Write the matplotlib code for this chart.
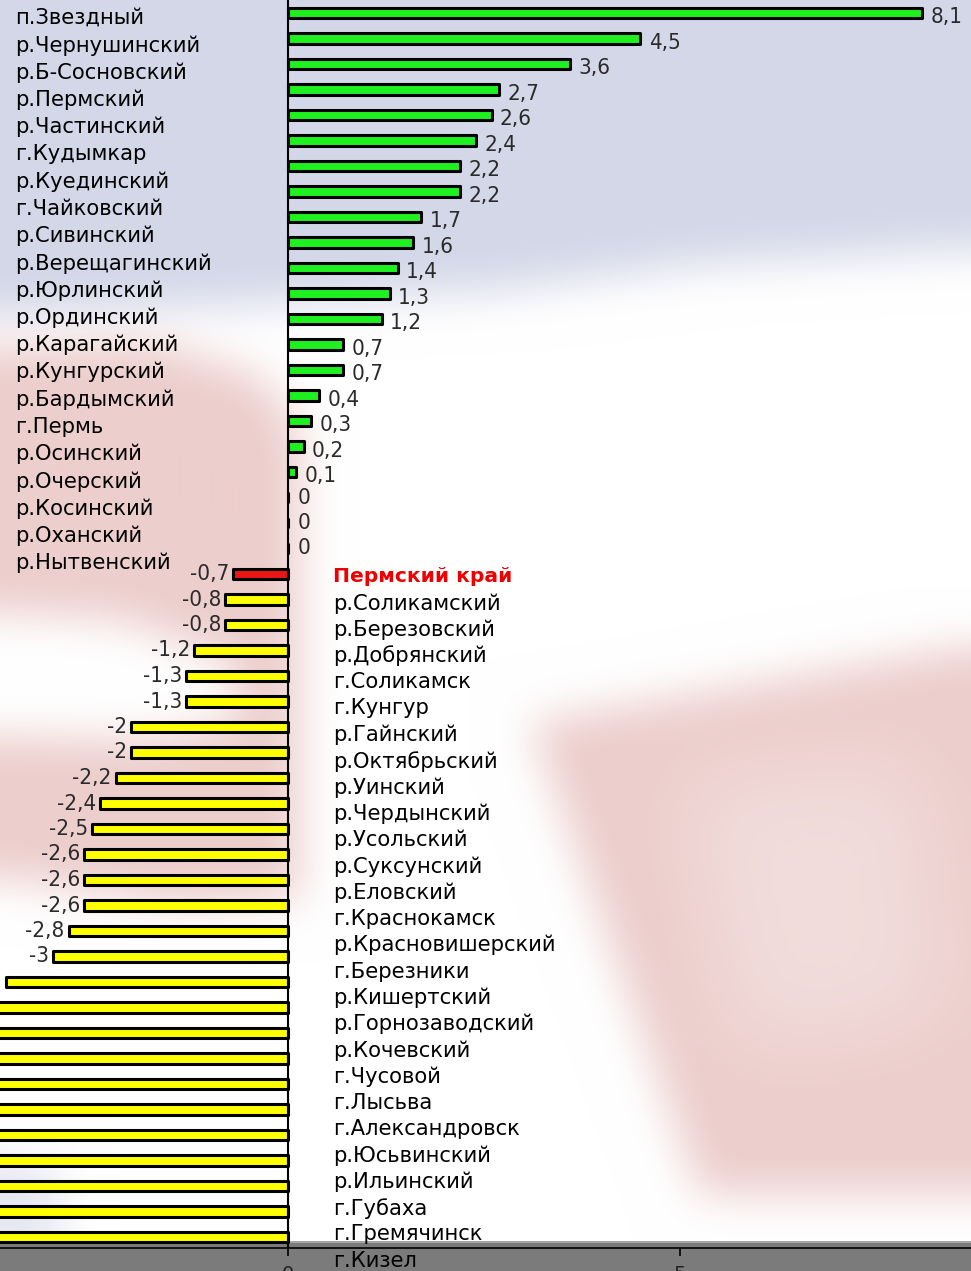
import numpy as np
import matplotlib
matplotlib.use("Agg")
import matplotlib.pyplot as plt
from matplotlib.path import Path
from matplotlib.patches import Rectangle

# ---------------- data ----------------
pos_names = ["п.Звездный", "р.Чернушинский", "р.Б-Сосновский", "р.Пермский", "р.Частинский",
             "г.Кудымкар", "р.Куединский", "г.Чайковский", "р.Сивинский", "р.Верещагинский",
             "р.Юрлинский", "р.Ординский", "р.Карагайский", "р.Кунгурский", "р.Бардымский",
             "г.Пермь", "р.Осинский", "р.Очерский", "р.Косинский", "р.Оханский", "р.Нытвенский"]
pos_vals = [8.1, 4.5, 3.6, 2.7, 2.6, 2.4, 2.2, 2.2, 1.7, 1.6, 1.4, 1.3, 1.2, 0.7, 0.7,
            0.4, 0.3, 0.2, 0.1, 0, 0, 0]
total_name = "Пермский край"
total_val = -0.7
neg_names = ["р.Соликамский", "р.Березовский", "р.Добрянский", "г.Соликамск", "г.Кунгур",
             "р.Гайнский", "р.Октябрьский", "р.Уинский", "р.Чердынский", "р.Усольский",
             "р.Суксунский", "р.Еловский", "г.Краснокамск", "р.Красновишерский", "г.Березники",
             "р.Кишертский", "р.Горнозаводский", "р.Кочевский", "г.Чусовой", "г.Лысьва",
             "г.Александровск", "р.Юсьвинский", "р.Ильинский", "г.Губаха", "г.Гремячинск", "г.Кизел"]
neg_vals = [-0.8, -0.8, -1.2, -1.3, -1.3, -2, -2, -2.2, -2.4, -2.5, -2.6, -2.6, -2.6, -2.8, -3,
            -3.6, -3.8, -4.0, -4.2, -4.5, -4.7, -5.0, -5.4, -5.9, -6.5, -7.3]
x_ticks = [0, 5]

# ---------------- figure ----------------
W, H = 971, 1271
fig = plt.figure(figsize=(W / 100, H / 100), dpi=100)

# background decoration (flag-like soft shapes)
yy, xx = np.mgrid[0:H, 0:W]
pts = np.column_stack([xx.ravel() + 0.5, yy.ravel() + 0.5])


def soft_mask(poly, passes=3, k=41):
    m = Path(poly).contains_points(pts).reshape(H, W).astype(float)
    for _ in range(passes):
        pad = k // 2
        mp = np.pad(m, ((0, 0), (pad, pad)), mode="edge")
        c = np.cumsum(np.pad(mp, ((0, 0), (1, 0))), axis=1)
        m = (c[:, k:] - c[:, :-k]) / k
        mp = np.pad(m, ((pad, pad), (0, 0)), mode="edge")
        c = np.cumsum(np.pad(mp, ((1, 0), (0, 0))), axis=0)
        m = (c[k:, :] - c[:-k, :]) / k
    return m[..., None]


img = np.ones((H, W, 3))
blue = np.array([212, 215, 232]) / 255
pink = np.array([236, 206, 204]) / 255
white = np.array([1.0, 1.0, 1.0])
m_blue = soft_mask([(-50, -50), (1050, -50), (1050, 245), (700, 265), (500, 290), (250, 305), (-50, 320)])
img = img * (1 - m_blue) + blue * m_blue
m_pl = soft_mask([(-50, 350), (150, 340), (260, 375), (300, 430), (300, 900), (180, 905), (-50, 870)])
img = img * (1 - m_pl) + pink * m_pl
m_wb = soft_mask([(-50, 610), (120, 620), (230, 660), (240, 720), (150, 740), (-50, 735)])
img = img * (1 - m_wb) + white * m_wb
m_pr = soft_mask([(530, 722), (1050, 632), (1050, 1195), (700, 1195)])
img = img * (1 - m_pr) + pink * m_pr
m_pc = soft_mask([(680, 780), (920, 760), (940, 1020), (740, 1050)], passes=3, k=81)
img = img * (1 - 0.3 * m_pc) + white * (0.3 * m_pc)
m_bl = soft_mask([(-50, 1150), (60, 1170), (60, 1260), (-50, 1260)])
img = img * (1 - 0.6 * m_bl) + blue * (0.6 * m_bl)

bg = fig.add_axes([0, 0, 1, 1], zorder=-10)
bg.imshow(img, aspect="auto", extent=(0, W, H, 0), interpolation="bilinear")
bg.set_axis_off()

# bottom gray strip
fig.patches.append(Rectangle((0, 0), 1, (H - 1241) / H, transform=fig.transFigure,
                             facecolor="#7b7b7b", edgecolor="none", zorder=-5))
fig.patches.append(Rectangle((0, (H - 1243) / H), 1, 2 / H, transform=fig.transFigure,
                             facecolor="#a5a5a5", edgecolor="none", zorder=-4))

# main axes
x0_px, unit_px = 288, 78.3
y0_px, row_px = 13, 25.5
ax_bottom_px = 1248
ax = fig.add_axes([0, (H - ax_bottom_px) / H, 1, ax_bottom_px / H])
ax.patch.set_alpha(0)
ax.set_xlim(-x0_px / unit_px, (W - x0_px) / unit_px)
ax.set_ylim((ax_bottom_px - y0_px) / row_px, -y0_px / row_px)
xmin_view = ax.get_xlim()[0]

vals = pos_vals + [total_val] + neg_vals
n = len(vals)
ypos = np.arange(n)
colors = ["#1ff01f"] * len(pos_vals) + ["#ea1515"] + ["#ffff00"] * len(neg_vals)
bars = ax.barh(ypos, vals, height=0.42, color=colors, edgecolor="black", linewidth=2.2, zorder=3)
for b in bars:
    b.set_joinstyle("round")

ax.axvline(0, color="black", lw=1.5, zorder=4)

# value labels (labels of bars running past the left edge fall outside the picture)
val_font = dict(family=["Liberation Sans Narrow", "DejaVu Sans"], fontstretch="condensed",
                fontsize=16, color="#2a2a2a")
for i, v in enumerate(vals):
    s = f"{v:g}".replace(".", ",")
    if v > 0:
        ax.annotate(s, (v, i), xytext=(6, -3), textcoords="offset points", ha="left", va="center",
                    annotation_clip=True, zorder=5, **val_font)
    elif v == 0:
        ax.annotate(s, (v, i), xytext=(7, 0), textcoords="offset points", ha="left", va="center",
                    annotation_clip=True, zorder=5, **val_font)
    elif v > xmin_view + 0.5:
        ax.annotate(s, (v, i), xytext=(-3, 0), textcoords="offset points", ha="right", va="center",
                    annotation_clip=True, zorder=5, **val_font)

# category labels
lab_font = dict(family=["DejaVu Sans"], fontsize=15.2, color="black")
trans_l = ax.get_yaxis_transform()
for i, name in enumerate(pos_names):
    ax.text(15 / W, (18 - y0_px) / row_px + i * 27.25 / row_px, name, transform=trans_l,
            ha="left", va="center", zorder=5, **lab_font)
right_names = [total_name] + neg_names
for j, name in enumerate(right_names):
    kw = dict(lab_font)
    if j == 0:
        kw.update(color="#ee0000", fontweight="bold", fontsize=14.6)
    ax.text(333 / W, (577 - y0_px) / row_px + j * 26.3 / row_px, name, transform=trans_l,
            ha="left", va="center", zorder=6, clip_on=False, **kw)

# axes styling
for side in ["left", "right", "top"]:
    ax.spines[side].set_visible(False)
ax.spines["bottom"].set_color("black")
ax.spines["bottom"].set_linewidth(1.2)
ax.set_yticks([])
ax.set_xticks(x_ticks)
ax.tick_params(axis="x", direction="out", length=6, width=1.2, color="black",
               labelsize=14, labelcolor="#222222", pad=6)

fig.savefig("out.png", dpi=100)
